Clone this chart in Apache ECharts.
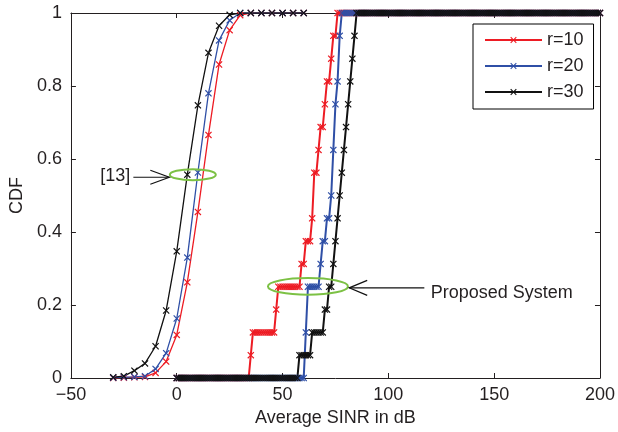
<!DOCTYPE html>
<html><head><meta charset="utf-8">
<script src="https://cdn.jsdelivr.net/npm/echarts@6/dist/echarts.min.js"></script>
<style>html,body{margin:0;padding:0;background:#fff}#c{width:618px;height:432px}</style>
</head><body><div id="c"></div>
<script>
// ---- data ----
const xTicks = [-50, 0, 50, 100, 150, 200];
const yTicks = [0, 0.2, 0.4, 0.6, 0.8, 1];
const seriesNames = ['r=10', 'r=20', 'r=30'];
const seriesColors = ['#ed1c24', '#2f4fa6', '#111111'];

// scheme of [13], markers every 5 dB
const priorSinr = [-30,-25,-20,-15,-10,-5,0,5,10,15,20,25,30,35,40,45,50,55,60];
const priorCdfR10 = [0,0.001,0.002,0.003,0.014,0.045,0.118,0.262,0.455,0.666,0.859,0.953,0.994,1,1,1,1,1,1];
const priorCdfR20 = [0.001,0.002,0.003,0.005,0.025,0.068,0.163,0.33,0.563,0.78,0.925,0.98,1,1,1,1,1,1,1];
const priorCdfR30 = [0.002,0.005,0.02,0.04,0.087,0.185,0.347,0.557,0.747,0.891,0.965,0.995,1,1,1,1,1,1,1];

// proposed system: average SINR (dB) of the 16 users, CDF evaluated on a 1 dB grid 0..200
const proposedGridStart = 0;
const proposedGridEnd = 200;
const proposedSamplesR10 = [35,36,47,48,59,61,64,65,65,67,68,70,71,73,74,76];
const proposedSamplesR20 = [61,61,62,62,68,69,71,73,74,74,75,75,76,77,77,78];
const proposedSamplesR30 = [58,64,70,72,74,75,76,77,78,79,80,81,82,83,84,85];

// ---- build ----
function empiricalCdf(samples) {
  const out = [];
  for (let x = proposedGridStart; x <= proposedGridEnd; x++) {
    const n = samples.filter(s => s <= x).length;
    out.push([x, n / samples.length]);
  }
  return out;
}
const zipXY = (xs, ys) => xs.map((x, i) => [x, ys[i]]);

const xMark = 'path://M0,1.2L1.2,0L5,3.8L8.8,0L10,1.2L6.2,5L10,8.8L8.8,10L5,6.2L1.2,10L0,8.8L3.8,5Z';
const fontFam = '"Liberation Sans", Arial, sans-serif';
const txtColor = '#231f20';

const priorData = [priorCdfR10, priorCdfR20, priorCdfR30];
const propData = [proposedSamplesR10, proposedSamplesR20, proposedSamplesR30];

const series = [];
for (let i = 0; i < 3; i++) {
  series.push({
    name: seriesNames[i], type: 'line', data: zipXY(priorSinr, priorData[i]),
    symbol: xMark, symbolSize: 7, showSymbol: true,
    lineStyle: {color: seriesColors[i], width: 1.3},
    itemStyle: {color: seriesColors[i]}, z: 2
  });
}
for (let i = 0; i < 3; i++) {
  series.push({
    name: seriesNames[i], type: 'line', data: empiricalCdf(propData[i]),
    symbol: xMark, symbolSize: 7, showSymbol: true,
    lineStyle: {color: seriesColors[i], width: 2},
    itemStyle: {color: seriesColors[i]}, z: 3
  });
}

const axisCommon = {
  axisLine: {show: true, onZero: false, lineStyle: {color: txtColor, width: 1}},
  axisTick: {show: true, inside: true, length: 5, lineStyle: {color: txtColor}},
  splitLine: {show: false}
};

const chart = echarts.init(document.getElementById('c'), null, {renderer: 'canvas'});
chart.setOption({
  animation: false,
  backgroundColor: '#fff',
  grid: {left: 65, right: 17, top: 13, bottom: 52},
  legend: {
    data: seriesNames, orient: 'vertical', left: 473, top: 24,
    itemWidth: 57, itemHeight: 8, itemGap: 8, padding: [7, 10, 8, 11],
    borderColor: '#000', borderWidth: 1, backgroundColor: '#fff',
    textStyle: {fontSize: 18, color: txtColor, fontFamily: fontFam}
  },
  xAxis: [
    Object.assign({type: 'value', position: 'bottom', min: xTicks[0], max: xTicks[xTicks.length-1],
      interval: xTicks[1]-xTicks[0],
      axisLabel: {fontSize: 18, color: txtColor, fontFamily: fontFam, margin: 8,
        formatter: v => String(v).replace('-', '\u2212')},
      name: 'Average SINR in dB', nameLocation: 'middle', nameGap: 31,
      nameTextStyle: {fontSize: 18, color: txtColor, fontFamily: fontFam}}, axisCommon),
    Object.assign({type: 'value', position: 'top', min: xTicks[0], max: xTicks[xTicks.length-1],
      interval: xTicks[1]-xTicks[0], axisLabel: {show: false}}, axisCommon)
  ],
  yAxis: [
    Object.assign({type: 'value', position: 'left', min: yTicks[0], max: yTicks[yTicks.length-1],
      interval: yTicks[1]-yTicks[0],
      axisLabel: {fontSize: 18, color: txtColor, fontFamily: fontFam, margin: 9},
      name: 'CDF', nameLocation: 'middle', nameGap: 41,
      nameTextStyle: {fontSize: 18, color: txtColor, fontFamily: fontFam}}, axisCommon),
    Object.assign({type: 'value', position: 'right', min: yTicks[0], max: yTicks[yTicks.length-1],
      interval: yTicks[1]-yTicks[0], axisLabel: {show: false}}, axisCommon)
  ],
  series: series
});

// ---- annotations (anchored in data coordinates) ----
const toPx = p => chart.convertToPixel({xAxisIndex: 0, yAxisIndex: 0}, p);
const green = '#7cc144';
const e1 = toPx([7.6, 0.557]);
const e2 = toPx([62, 0.251]);
const a1tip = toPx([-3.5, 0.55]), a1tail = toPx([-20.5, 0.55]);
const a2tip = toPx([81.5, 0.247]), a2tail = toPx([117, 0.247]);
const t2 = toPx([120, 0.232]);

function arrow(tip, tail, dir, len, half) {
  return [
    {type: 'line', shape: {x1: tail[0], y1: tail[1], x2: tip[0], y2: tip[1]}, style: {stroke: '#111', lineWidth: 1.2}, z: 10},
    {type: 'polyline', shape: {points: [[tip[0] - dir*len, tip[1]-half], tip, [tip[0] - dir*len, tip[1]+half]]},
      style: {stroke: '#111', lineWidth: 1.2, fill: 'none'}, z: 10}
  ];
}

chart.setOption({
  graphic: [
    {type: 'ellipse', shape: {cx: e1[0], cy: e1[1], rx: 23, ry: 5.5}, style: {fill: 'none', stroke: green, lineWidth: 2}, z: 10},
    {type: 'ellipse', shape: {cx: e2[0], cy: e2[1], rx: 40, ry: 8.3}, style: {fill: 'none', stroke: green, lineWidth: 2}, z: 10},
    ...arrow(a1tip, a1tail, 1, 19, 7),
    ...arrow(a2tip, a2tail, -1, 18, 7.5),
    {type: 'text', style: {text: '[13]', x: a1tail[0] - 3, y: a1tail[1] - 1, textAlign: 'right', textVerticalAlign: 'middle',
      font: '18px ' + fontFam, fill: txtColor}, z: 10},
    {type: 'text', style: {text: 'Proposed System', x: t2[0], y: t2[1], textAlign: 'left', textVerticalAlign: 'middle',
      font: '18px ' + fontFam, fill: txtColor}, z: 10}
  ]
});
</script>
</body></html>
